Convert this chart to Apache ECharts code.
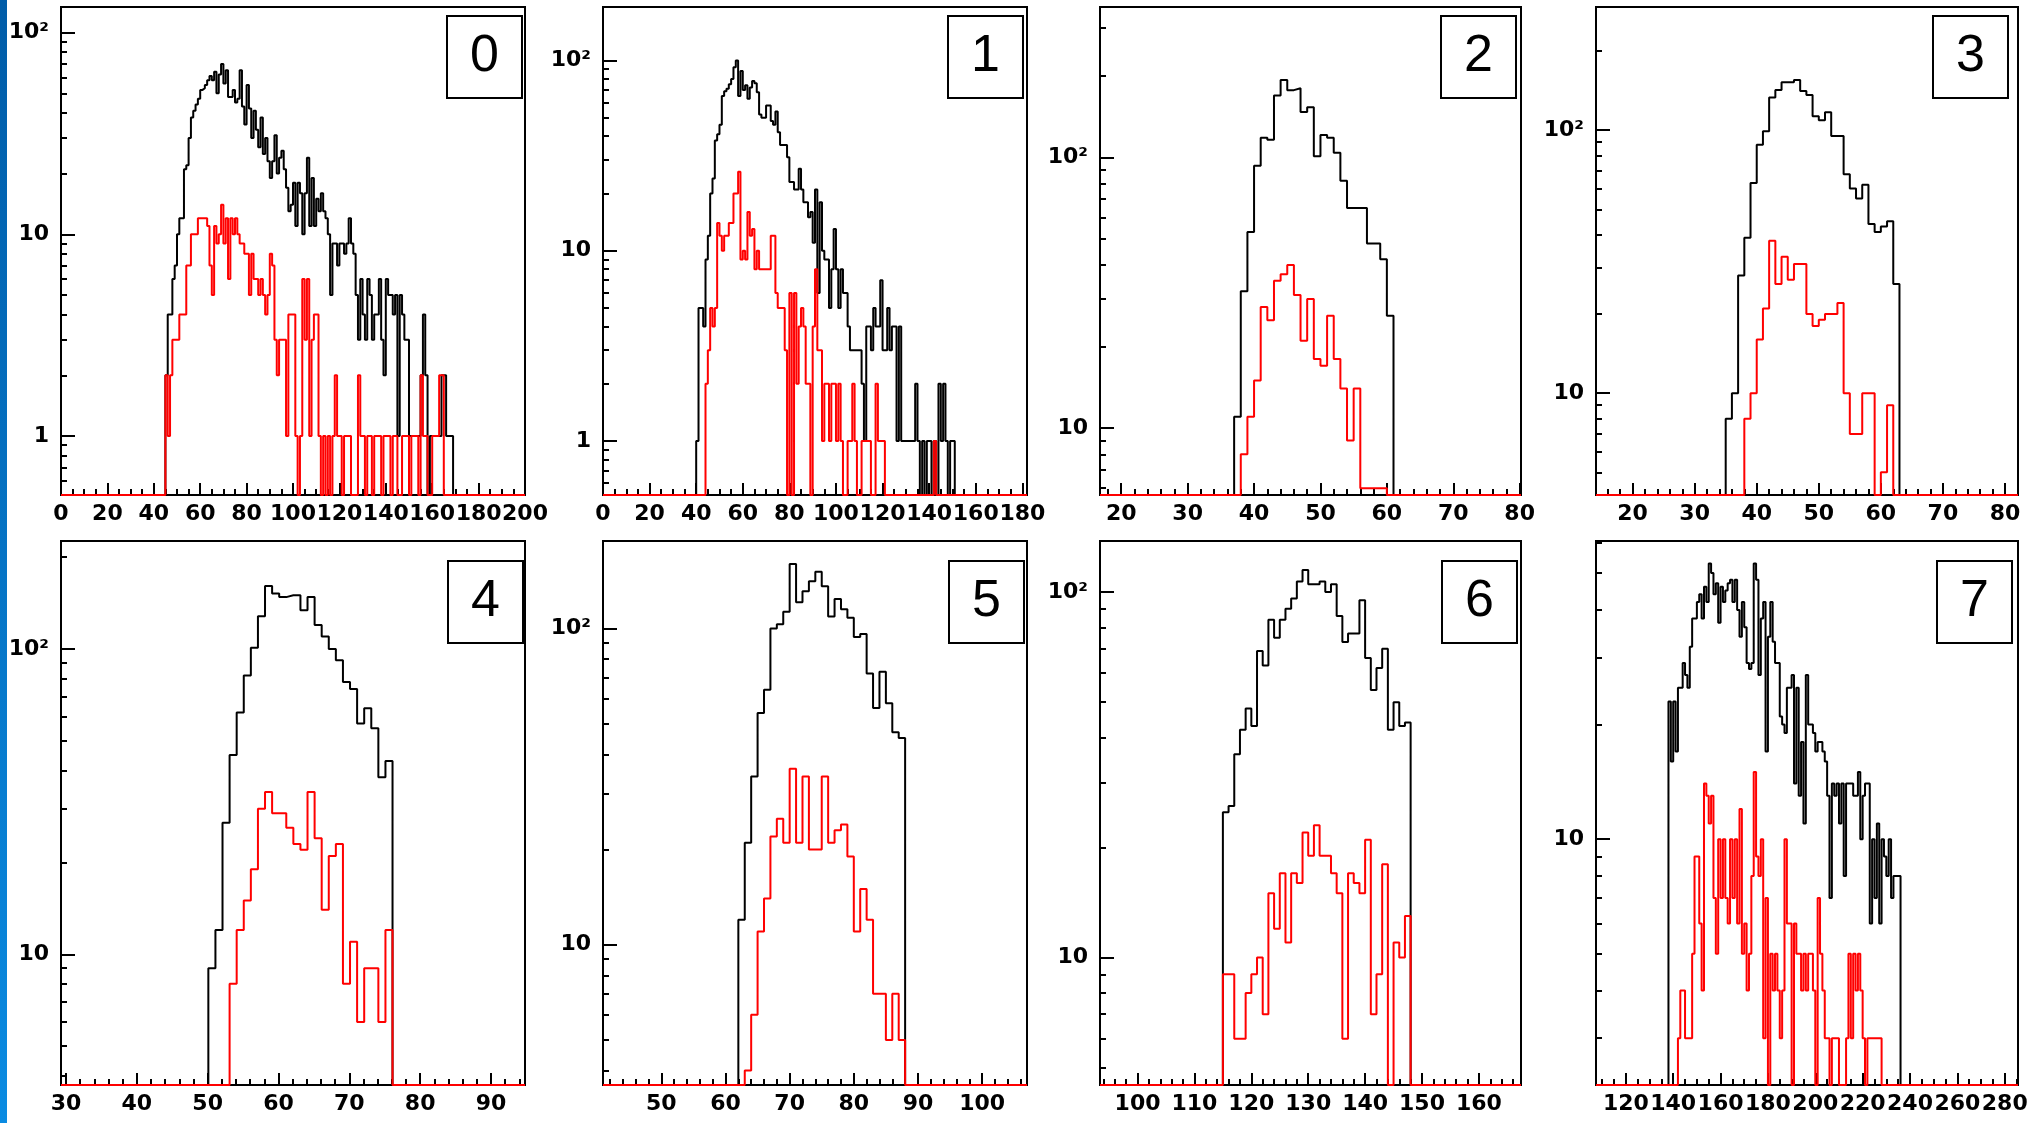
<!DOCTYPE html>
<html><head><meta charset="utf-8">
<script src="https://cdn.jsdelivr.net/npm/echarts@6/dist/echarts.min.js"></script>
<style>html,body{margin:0;padding:0;background:#fff}#c{width:2036px;height:1123px}</style>
</head><body><div id="c"></div>
<script>
// ---------- data ----------
const panelNames = ['0','1','2','3','4','5','6','7'];
// first bin low edge and bin width of each panel
const binStart = [45, 40, 37, 35, 50.1, 62, 115, 138];
const binWidth = [1, 1, 1, 1, 1, 1, 1, 1];
// axis ranges
const xMin = [0, 0, 16.8, 14.1, 29.3, 40.9, 93.4, 107.4];
const xMax = [200, 182, 80.2, 82.1, 94.8, 107, 167.4, 285.6];
const yMin = [0.51, 0.52, 5.66, 4.1, 3.73, 3.6, 4.48, 2.26];
const yMax = [134, 191, 359, 294, 226, 189, 138, 60.7];
// tick labels
const xTicks0 = [0,20,40,60,80,100,120,140,160,180,200];
const xTicks1 = [0,20,40,60,80,100,120,140,160,180];
const xTicks2 = [20,30,40,50,60,70,80];
const xTicks3 = [20,30,40,50,60,70,80];
const xTicks4 = [30,40,50,60,70,80,90];
const xTicks5 = [50,60,70,80,90,100];
const xTicks6 = [100,110,120,130,140,150,160];
const xTicks7 = [120,140,160,180,200,220,240,260,280];
const xMinorStep = [5, 5, 2, 2, 2, 2, 2, 5];
const yTicks0 = [1,10,100];
const yTicks1 = [1,10,100];
const yTicks2 = [10,100];
const yTicks3 = [10,100];
const yTicks4 = [10,100];
const yTicks5 = [10,100];
const yTicks6 = [10,100];
const yTicks7 = [10];

const p0Black = [2,4,4,6,7,10,12,12,21,22, 30,38,41,44,47,52,53,55,58,61, 58,64,50,62,70,56,65,48,48,52,
  45,47,65,43,35,55,42,30,41,33, 27,38,25,30,23,19,23,31,20,24, 26,21,17,13,14,18,11,18,16,10,
  16,24,11,19,11,15,13,16,13,12, 10,5,9,9,7,9,9,8,9,12, 9,8,5,3,6,4,3,6,5,3,
  4,4,6,3,2,6,5,5,4,5, 1,5,4,3,3,1,1,1,1,1, 2,4,2,0,1,1,1,1,1,2, 2,1,1,1,0];
const p0Red = [2,1,2,3,3,3,4,4,4,7, 7,10,10,10,12,12,12,12,11,7, 5,11,9,10,14,9,12,6,12,10,
  12,10,9,9,8,8,5,8,6,6, 5,6,5,4,5,8,7,3,2,3, 3,3,1,4,4,4,1,0,1,6,
  3,6,1,3,4,4,1,0,1,0, 1,0,1,2,1,1,0,1,1,1, 0,0,0,2,1,1,0,1,1,0,
  1,1,1,0,1,1,1,0,1,1, 0,0,1,1,1,0,1,1,1,0, 2,1,1,0,0,1,1,1,2,2, 0,0,0,0,0];

const p1Black = [1,5,5,4,9,12,20,24,38,41, 46,65,69,71,75,80,92,100,65,88, 70,74,63,72,78,76,68,52,50,50,
  58,58,48,46,54,42,36,36,36,31, 23,23,21,21,27,21,18,18,15,16, 11,21,6,18,10,9,9,5,8,13,
  8,5,8,6,6,4,3,3,3,3, 3,2,1,4,4,3,5,4,4,7, 3,3,5,3,4,4,1,4,1,1,
  1,1,1,1,2,1,0,1,0,1, 1,0,1,0,2,1,2,1,0,1,1];
const p1Red = [0,0,0,0,2,3,5,4,5,14, 12,10,12,12,14,14,20,20,26,9, 10,9,16,12,13,8,10,8,8,8,
  8,8,12,12,6,5,5,5,3,0, 6,0,6,2,4,5,4,2,2,0, 4,8,3,3,1,2,2,1,2,2,
  1,2,1,0,0,1,1,2,1,0, 0,1,1,1,1,0,0,2,1,1, 1,0,0,0,0,0,0,0,0,0,
  0,0,0,0,0,0,0,0,0,0, 0,0,1,0,0,0,0,0,0,0,0];

const p2Black = [11,32,53,93,118,116,169,193,177,180,147,153,101,121,118,104,82,65,65,65,48,48,42,26];
const p2Red = [0,8,11,15,28,25,35,37,40,31,21,30,18,17,26,18,14,9,14,6,6,6,6,0];

const p3Black = [8,10,28,39,63,88,99,133,142,152,152,155,141,136,113,109,117,95,95,68,60,55,62,44,41,43,45,26];
const p3Red = [0,0,0,8,10,16,21,38,26,33,27,31,31,20,18,19,20,20,22,10,7,7,10,10,0,5,9,0];

const p4Black = [9,12,27,45,62,82,101,128,161,152,148,150,150,134,148,120,110,100,92,78,74,57,64,55,38,43];
const p4Red = [0,0,0,8,12,15,19,30,34,29,29,26,23,22,34,24,14,21,23,8,11,6,9,9,6,12];

const p5Black = [12,21,34,54,64,100,103,113,160,121,131,141,151,136,109,124,115,108,94,96,72,56,73,58,47,45];
const p5Red = [0,4,6,11,14,22,25,21,36,21,34,20,20,34,21,23,24,19,11,15,12,7,7,5,7,5];

const p6Black = [25,26,36,42,48,43,69,63,84,75,84,90,96,107,115,105,105,107,100,105,86,73,77,77,95,66,54,62,70,42,50,43,44];
const p6Red = [9,9,6,6,8,9,10,7,15,12,17,11,17,16,22,19,23,19,19,17,15,6,17,16,15,21,7,9,18,0,11,10,13];

const p7Black = [23,16,23,17,25,25,29,27,25,32, 38,38,42,44,38,46,42,53,50,44, 47,37,46,42,45,47,48,42,48,40,
  34,42,36,29,28,29,53,48,27,38, 42,17,34,42,33,29,29,21,20,19, 25,25,27,14,25,13,18,11,27,20,
  20,19,17,18,18,17,16,13,7,14, 13,14,11,14,8,14,14,14,13,13, 15,10,13,14,14,6,10,7,11,6,
  10,9,8,10,7,8,8,8];
const p7Red = [0,0,0,0,3,4,4,3,3,3, 5,9,9,6,4,14,13,11,13,7, 5,10,7,10,7,6,10,7,10,6,
  12,5,6,4,5,8,15,9,8,10, 3,7,0,5,4,5,4,3,4,10, 6,6,0,6,5,5,4,5,4,5,
  5,4,0,7,5,4,3,3,0,3, 3,3,0,0,0,3,5,3,5,4, 5,4,3,0,3,3,3,3,3,3,
  0,0,0,0,0,0,0,0];

const blackSets = [p0Black,p1Black,p2Black,p3Black,p4Black,p5Black,p6Black,p7Black];
const redSets = [p0Red,p1Red,p2Red,p3Red,p4Red,p5Red,p6Red,p7Red];
const xTickSets = [xTicks0,xTicks1,xTicks2,xTicks3,xTicks4,xTicks5,xTicks6,xTicks7];
const yTickSets = [yTicks0,yTicks1,yTicks2,yTicks3,yTicks4,yTicks5,yTicks6,yTicks7];

// ---------- layout ----------
const frames = [[61,7,464,488],[603,7,424,488],[1100,7,421,488],[1596,7,422,488],
                [61,541,464,544],[603,541,424,544],[1100,541,421,544],[1596,541,422,544]];
const boxes = [[446,15],[947,15],[1440,15],[1932,15],[447,560],[948,560],[1441,560],[1936,560]];
const labelFont = {fontFamily:'DejaVu Sans', fontWeight:'bold', fontSize:22, color:'#000'};

function histPoints(i, vals) {
  const lo = yMin[i];
  const pts = [[xMin[i], lo]];
  vals.forEach((v, k) => pts.push([binStart[i] + k*binWidth[i], v > lo ? v : lo]));
  pts.push([binStart[i] + vals.length*binWidth[i], lo]);
  pts.push([xMax[i], lo]);
  return pts;
}
function minorX(i) {
  const s = xMinorStep[i], out = [];
  for (let v = Math.ceil(xMin[i]/s)*s; v <= xMax[i] + 1e-9; v += s) {
    if (xTickSets[i].indexOf(Math.round(v*1000)/1000) < 0) out.push(Math.round(v*1000)/1000);
  }
  return out;
}
function minorY(i) {
  const out = [];
  [0.1,1,10,100].forEach(d => { for (let m = 2; m <= 9; m++) { const v = m*d; if (v > yMin[i] && v < yMax[i]) out.push(v); } });
  return out;
}

const grid = [], xAxis = [], yAxis = [], series = [], graphic = [];
graphic.push({type:'rect', left:0, top:0, z:100, shape:{x:0,y:0,width:7,height:1123},
  style:{fill:new echarts.graphic.LinearGradient(0,0,0,1,[{offset:0,color:'#005ca8'},{offset:1,color:'#0a8be2'}])}});

for (let i = 0; i < 8; i++) {
  const f = frames[i];
  grid.push({left:f[0], top:f[1], width:f[2], height:f[3], show:true, borderColor:'#000', borderWidth:2,
    backgroundColor:'#fff', containLabel:false, outerBoundsMode:'none'});
  xAxis.push({gridIndex:i, type:'value', min:xMin[i], max:xMax[i], position:'bottom', z:1,
    axisLine:{show:false, onZero:false}, splitLine:{show:false},
    axisTick:{show:true, inside:true, length:12, lineStyle:{color:'#000', width:2}, customValues:xTickSets[i]},
    axisLabel:Object.assign({customValues:xTickSets[i], margin:8, showMinLabel:true, showMaxLabel:true, hideOverlap:false}, labelFont)});
  xAxis.push({gridIndex:i, type:'value', min:xMin[i], max:xMax[i], position:'bottom', z:1,
    axisLine:{show:false, onZero:false}, splitLine:{show:false}, axisLabel:{show:false},
    axisTick:{show:true, inside:true, length:6, lineStyle:{color:'#000', width:2}, customValues:minorX(i)}});
  yAxis.push({gridIndex:i, type:'log', logBase:10, min:yMin[i], max:yMax[i], position:'left', z:1,
    axisLine:{show:false}, splitLine:{show:false},
    axisTick:{show:true, inside:true, length:14, lineStyle:{color:'#000', width:2}, customValues:yTickSets[i]},
    axisLabel:Object.assign({customValues:yTickSets[i], margin:12, showMinLabel:true, showMaxLabel:true,
      formatter:v => { const r = Math.round(v); return r === 100 ? '10\u00b2' : String(r); }}, labelFont)});
  yAxis.push({gridIndex:i, type:'log', logBase:10, min:yMin[i], max:yMax[i], position:'left', z:1,
    axisLine:{show:false}, splitLine:{show:false}, axisLabel:{show:false},
    axisTick:{show:true, inside:true, length:6, lineStyle:{color:'#000', width:2}, customValues:minorY(i)}});
  series.push({type:'line', xAxisIndex:2*i, yAxisIndex:2*i, step:'end', symbol:'none', silent:true, clip:false,
    data:histPoints(i, blackSets[i]), lineStyle:{color:'#000', width:2}, itemStyle:{color:'#000'}, z:3});
  series.push({type:'line', xAxisIndex:2*i, yAxisIndex:2*i, step:'end', symbol:'none', silent:true, clip:false,
    data:histPoints(i, redSets[i]), lineStyle:{color:'#ff0000', width:2}, itemStyle:{color:'#ff0000'}, z:4});
  const b = boxes[i];
  graphic.push({type:'group', left:b[0], top:b[1], z:50, children:[
    {type:'rect', shape:{x:0,y:0,width:75,height:82}, style:{fill:'#fff', stroke:'#000', lineWidth:2}},
    {type:'text', x:37.5, y:41, style:{text:panelNames[i], fill:'#000', font:'52px "Liberation Sans", Arial, sans-serif',
      textAlign:'center', textVerticalAlign:'middle'}}
  ]});
}

const chart = echarts.init(document.getElementById('c'), null, {renderer:'canvas'});
chart.setOption({animation:false, backgroundColor:'#fff', grid, xAxis, yAxis, series, graphic});
</script>
</body></html>
